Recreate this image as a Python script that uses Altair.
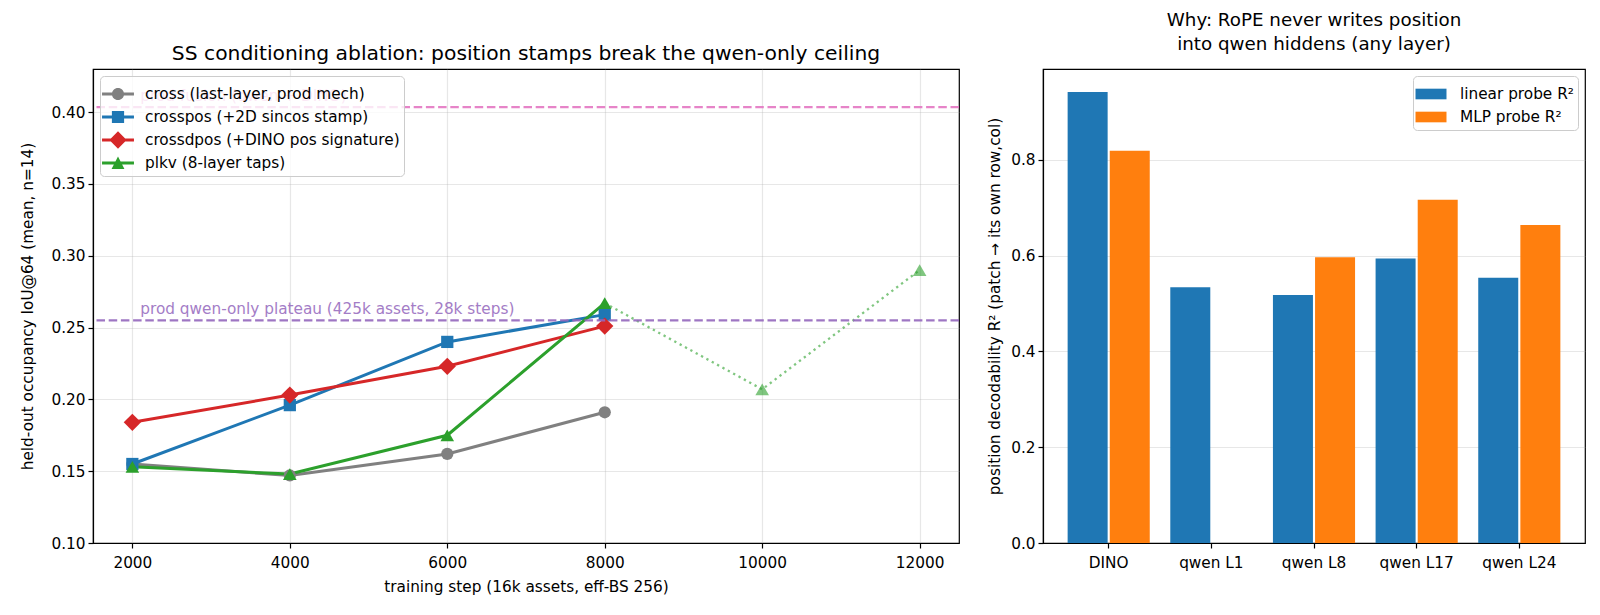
import altair as alt
import pandas as pd

# ---------------- data: left panel ----------------
steps = [2000, 4000, 6000, 8000]
series_names = [
    "cross (last-layer, prod mech)",
    "crosspos (+2D sincos stamp)",
    "crossdpos (+DINO pos signature)",
    "plkv (8-layer taps)",
]
cross_vals = [0.155, 0.147, 0.162, 0.191]
crosspos_vals = [0.155, 0.196, 0.240, 0.259]
crossdpos_vals = [0.184, 0.203, 0.223, 0.251]
plkv_vals = [0.153, 0.148, 0.175, 0.267]
plkv_ext_steps = [8000, 10000, 12000]
plkv_ext_vals = [0.267, 0.207, 0.290]
ref_vals = [0.4035, 0.255]
ref_labels = ["prod fusion (qwen + DINO)", "prod qwen-only plateau (425k assets, 28k steps)"]
ref_label_step = 2100

# ---------------- data: right panel ----------------
probe_layers = ["DINO", "qwen L1", "qwen L8", "qwen L17", "qwen L24"]
probe_kinds = ["linear probe R²", "MLP probe R²"]
linear_r2 = [0.942, 0.534, 0.518, 0.594, 0.554]
mlp_r2 = [0.819, None, 0.597, 0.717, 0.664]

# ---------------- styles ----------------
series_colors = ["#808080", "#1f77b4", "#d62728", "#2ca02c"]
series_shapes = ["circle", "square", "diamond", "triangle-up"]
series_sizes = [150, 150, 299, 185]
ref_colors = ["#e377c2", "#9467bd"]
bar_colors = ["#1f77b4", "#ff7f0e"]
FONT = "DejaVu Sans"

# legend glyphs: line through a marker (custom svg paths, scaled by sqrt(size)/2)
leg_paths = [
    "M-1.14,-0.11L1.14,-0.11L1.14,0.11L-1.14,0.11Z M0.436,0 A0.436,0.436 0 1,1 -0.436,0 A0.436,0.436 0 1,1 0.436,0 Z",
    "M-1.14,-0.11L1.14,-0.11L1.14,0.11L-1.14,0.11Z M-0.436,-0.436L0.436,-0.436L0.436,0.436L-0.436,0.436Z",
    "M-1.14,-0.11L1.14,-0.11L1.14,0.11L-1.14,0.11Z M0,-0.617L0.617,0L0,0.617L-0.617,0Z",
    "M-1.14,-0.11L1.14,-0.11L1.14,0.11L-1.14,0.11Z M0,-0.46L0.46,0.43L-0.46,0.43Z",
]
bar_leg_path = "M-1.107,-0.38L1.107,-0.38L1.107,0.38L-1.107,0.38Z"

rows = []
for name, vals in zip(series_names, [cross_vals, crosspos_vals, crossdpos_vals, plkv_vals]):
    for s, v in zip(steps, vals):
        rows.append({"series": name, "step": s, "value": v})
df_lines = pd.DataFrame(rows)
df_ext = pd.DataFrame({"step": plkv_ext_steps, "value": plkv_ext_vals})

x_enc = alt.X(
    "step:Q",
    scale=alt.Scale(domain=[1500, 12500], nice=False, zero=False),
    axis=alt.Axis(values=[2000, 4000, 6000, 8000, 10000, 12000], format="d",
                  title="training step (16k assets, eff-BS 256)", grid=True,
                  labelPadding=7, titlePadding=9),
)
y_enc = alt.Y(
    "value:Q",
    scale=alt.Scale(domain=[0.10, 0.43], nice=False, zero=False),
    axis=alt.Axis(values=[0.10, 0.15, 0.20, 0.25, 0.30, 0.35, 0.40], format=".2f",
                  title="held-out occupancy IoU@64 (mean, n=14)", grid=True, titlePadding=15),
)
color_scale = alt.Scale(domain=series_names, range=series_colors)

base = alt.Chart(df_lines)

line_layers = []
point_layers = []
for name, col, shp, sz in zip(series_names, series_colors, series_shapes, series_sizes):
    sub = base.transform_filter(alt.datum.series == name)
    line_layers.append(sub.mark_line(strokeWidth=3, color=col).encode(x=x_enc, y=y_enc))
    point_layers.append(
        sub.mark_point(filled=True, shape=shp, size=sz, color=col, opacity=1)
        .encode(x="step:Q", y="value:Q")
    )

ext_line = alt.Chart(df_ext).mark_line(
    strokeWidth=2.3, strokeDash=[2.3, 3.8], color="#2ca02c", opacity=0.6
).encode(x="step:Q", y="value:Q")
ext_pts = alt.Chart(df_ext).transform_filter(alt.datum.step > 8000).mark_point(
    filled=True, shape="triangle-up", size=185, color="#2ca02c", opacity=0.6
).encode(x="step:Q", y="value:Q")

ref_layers = []
for v, lab, col in zip(ref_vals, ref_labels, ref_colors):
    dref = pd.DataFrame({"value": [v], "label": [lab], "step": [ref_label_step]})
    ref_layers.append(
        alt.Chart(dref).mark_rule(color=col, strokeWidth=2.3, strokeDash=[8.5, 3.7], opacity=0.9)
        .encode(y="value:Q")
    )
    ref_layers.append(
        alt.Chart(dref).mark_text(align="left", baseline="bottom", dy=-3, fontSize=15.3,
                                  font=FONT, color=col, opacity=0.85)
        .encode(x="step:Q", y="value:Q", text="label:N")
    )

left_legend = alt.Legend(title=None, orient="top-left", offset=7,
                         fillColor="rgba(255,255,255,0.8)", strokeColor="#cccccc",
                         cornerRadius=4, padding=4, labelFontSize=15.3, labelFont=FONT,
                         labelColor="#000", symbolSize=784, symbolStrokeWidth=0,
                         labelOffset=13, rowPadding=-1, labelLimit=500)

legend_layer = base.transform_filter("false").mark_point(filled=True, opacity=1).encode(
    x="step:Q", y="value:Q",
    color=alt.Color("series:N", scale=color_scale, legend=left_legend),
    shape=alt.Shape("series:N", scale=alt.Scale(domain=series_names, range=leg_paths),
                    legend=left_legend),
)

left = alt.layer(*line_layers, *point_layers, ext_line, ext_pts, *ref_layers, legend_layer).properties(
    width=866, height=474,
    title=alt.TitleParams("SS conditioning ablation: position stamps break the qwen-only ceiling",
                          fontSize=20.3, fontWeight="normal", font=FONT, color="#000", offset=5,
                          anchor="middle"),
)

# ---------------- right panel ----------------
brows = []
for lay, lv, mv in zip(probe_layers, linear_r2, mlp_r2):
    if lv is not None:
        brows.append({"layer": lay, "probe": probe_kinds[0], "r2": lv})
    if mv is not None:
        brows.append({"layer": lay, "probe": probe_kinds[1], "r2": mv})
df_bars = pd.DataFrame(brows)

right = alt.Chart(df_bars).mark_bar().encode(
    x=alt.X("layer:N", sort=probe_layers,
            scale=alt.Scale(domain=probe_layers, paddingInner=0.2, paddingOuter=0.24),
            axis=alt.Axis(title=None, labelAngle=0, grid=False, labelFontSize=15.3, labelPadding=7)),
    xOffset=alt.XOffset("probe:N", sort=probe_kinds,
                        scale=alt.Scale(domain=probe_kinds, paddingInner=0.05, paddingOuter=0)),
    y=alt.Y("r2:Q", scale=alt.Scale(domain=[0, 0.99], nice=False),
            axis=alt.Axis(values=[0, 0.2, 0.4, 0.6, 0.8], format=".1f", grid=True,
                          title="position decodability R² (patch → its own row,col)", titlePadding=8)),
    color=alt.Color("probe:N", scale=alt.Scale(domain=probe_kinds, range=bar_colors),
                    legend=alt.Legend(title=None, orient="top-right", offset=7,
                                      fillColor="rgba(255,255,255,0.8)", strokeColor="#cccccc",
                                      cornerRadius=4, padding=4, labelFontSize=15.3, labelFont=FONT,
                                      labelColor="#000", symbolSize=784, symbolStrokeWidth=0,
                                      symbolType=bar_leg_path,
                                      labelOffset=15, rowPadding=-1)),
).properties(
    width=542, height=474,
    title=alt.TitleParams(["Why: RoPE never writes position", "into qwen hiddens (any layer)"],
                          fontSize=18.3, fontWeight="normal", font=FONT, color="#000", offset=15,
                          anchor="middle", lineHeight=24),
)

chart = alt.hconcat(left, right, spacing=26).resolve_scale(
    color="independent", shape="independent", x="independent", y="independent"
).resolve_legend(color="independent", shape="independent").configure(
    font=FONT,
    padding={"left": 12, "top": 2, "right": 4, "bottom": 4},
).configure_axis(
    labelFont=FONT, titleFont=FONT, labelFontSize=15.3, titleFontSize=15.3,
    titleFontWeight="normal", labelColor="#000", titleColor="#000",
    domainColor="#000", tickColor="#000", tickSize=5, tickWidth=1.2, domainWidth=1.2,
    gridColor="#b0b0b0", gridOpacity=0.3, gridWidth=1.2, labelPadding=3,
).configure_view(stroke="#000", strokeWidth=1.2)

chart.save("out.html", embed_options={"renderer": "svg", "actions": False})
